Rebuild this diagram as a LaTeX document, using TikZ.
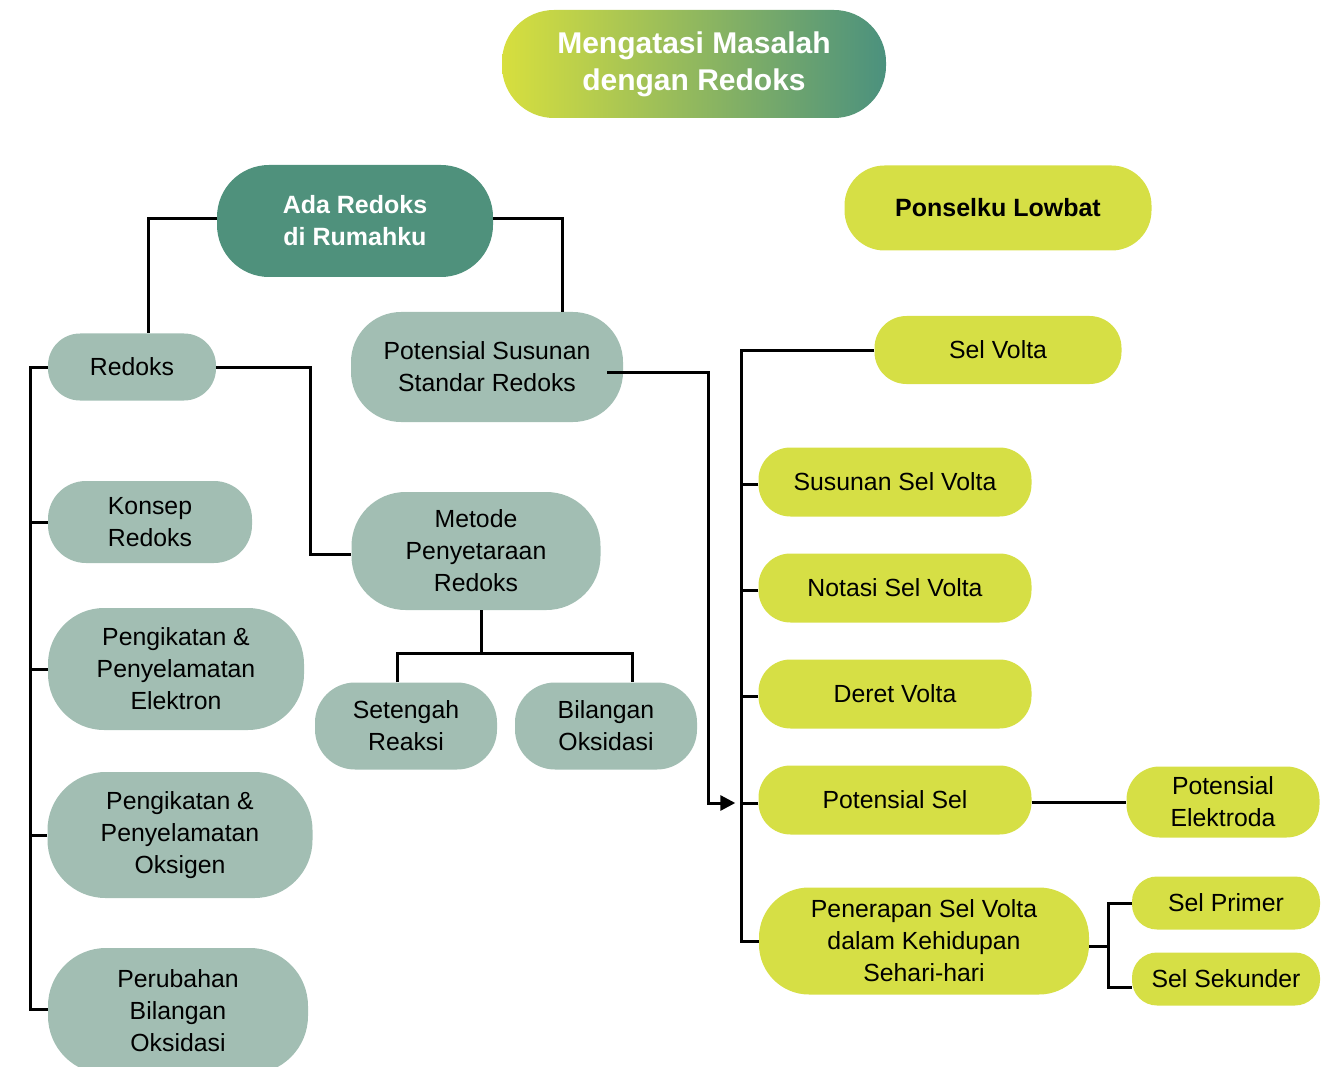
\documentclass[tikz,border=0pt]{standalone}
\usepackage{fontspec}
\setmainfont{Liberation Sans}
\usetikzlibrary{arrows.meta,calc}
\definecolor{grn}{HTML}{A2BEB3}
\definecolor{dgrn}{HTML}{4F917C}
\definecolor{ylw}{HTML}{D6DF45}
\definecolor{tleft}{HTML}{D7DF3E}
\definecolor{tright}{HTML}{4B917E}
\tikzset{
  box/.style={rectangle, inner sep=0pt, align=center, text=black,
    font=\fontsize{24.8}{32}\selectfont},
  gbox/.style={box, fill=grn},
  ybox/.style={box, fill=ylw},
  dbox/.style={box, fill=dgrn, text=white, font=\fontsize{25}{32}\selectfont\bfseries},
  sz/.style n args={3}{minimum width=#1pt, minimum height=#2pt, rounded corners=#3pt},
  con/.style={line width=3pt, black},
  arr/.style={con, -{Triangle[length=15pt,width=15pt]}},
}
\begin{document}
\begin{tikzpicture}[x=1pt,y=-1pt]
\useasboundingbox (0,0) rectangle (1336,1067);
% title
\node[box, sz={384}{108}{52}, left color=tleft, right color=tright, text=white,
  font=\fontsize{30}{37}\selectfont\bfseries] (title) at (694,64) {Mengatasi Masalah\\dengan Redoks};
% left tree
\node[dbox, sz={276}{112}{52}] (ada) at (355,221) {Ada Redoks\\di Rumahku};
\node[gbox, sz={168}{67}{32}] (redoks) at (132,367) {Redoks};
\node[gbox, sz={272}{110}{50}] (pss) at (487,367) {Potensial Susunan\\Standar Redoks};
\node[gbox, sz={204}{82}{38}] (konsep) at (150,522) {Konsep\\Redoks};
\node[gbox, sz={249}{118}{54}] (metode) at (476,551) {Metode\\Penyetaraan\\Redoks};
\node[gbox, sz={256}{122}{56}] (penge) at (176,669) {Pengikatan \&\\Penyelamatan\\Elektron};
\node[gbox, sz={182}{87}{40}] (setengah) at (406,726) {Setengah\\Reaksi};
\node[gbox, sz={182}{87}{40}] (bilangan) at (606,726) {Bilangan\\Oksidasi};
\node[gbox, sz={265}{126}{58}] (pengo) at (180,835) {Pengikatan \&\\Penyelamatan\\Oksigen};
\node[gbox, sz={260}{126}{58}] (perubahan) at (178,1011) {Perubahan\\Bilangan\\Oksidasi};
% right tree
\node[ybox, sz={307}{85}{40}, font=\fontsize{25}{32}\selectfont\bfseries] (ponsel) at (998,208) {Ponselku Lowbat};
\node[ybox, sz={247}{68}{32}] (selvolta) at (998,350) {Sel Volta};
\node[ybox, sz={273}{69}{32}] (susunan) at (895,482) {Susunan Sel Volta};
\node[ybox, sz={273}{69}{32}] (notasi) at (895,588) {Notasi Sel Volta};
\node[ybox, sz={273}{69}{32}] (deret) at (895,694) {Deret Volta};
\node[ybox, sz={273}{69}{32}] (potsel) at (895,800) {Potensial Sel};
\node[ybox, sz={330}{107}{50}] (penerapan) at (924,941) {Penerapan Sel Volta\\dalam Kehidupan\\Sehari-hari};
\node[ybox, sz={193}{71}{33}] (potel) at (1223,802) {Potensial\\Elektroda};
\node[ybox, sz={188}{53}{25}] (primer) at (1226,903) {Sel Primer};
\node[ybox, sz={188}{53}{25}] (sekunder) at (1226,979) {Sel Sekunder};
% connectors left
\draw[con] ([yshift=2pt]ada.west) -| ([xshift=16pt]redoks.north);
\draw[con] ([yshift=2pt]ada.east) -| ([xshift=75pt]pss.north);
\draw[con] (redoks.east) -- ++(94,0) |- ([yshift=-3pt]metode.west);
\draw[con] (redoks.west) -- ++(-17,0) |- ([yshift=2pt]perubahan.west);
\draw[con] (konsep.west) -- ++(-17,0);
\draw[con] (penge.west) -- ++(-17,0);
\draw[con] (pengo.west) -- ++(-17,0);
\coordinate (mj) at (481,653);
\draw[con] (metode.south -| mj) -- (mj);
\draw[con] ([xshift=-9pt]setengah.north) |- (mj) -| ([xshift=26pt]bilangan.north);
% connectors right
\draw[arr] ([shift={(-16pt,-5pt)}]pss.east) -- ++(101,0) |- ([xshift=-23pt,yshift=-3pt]potsel.west);
\draw[con] (selvolta.west) -| ([xshift=-17pt]penerapan.west) -- (penerapan.west);
\draw[con] ([yshift=-2pt]susunan.west) -- ++(-17,0);
\draw[con] ([yshift=-2pt]notasi.west) -- ++(-17,0);
\draw[con] ([yshift=-2pt]deret.west) -- ++(-17,0);
\draw[con] ([yshift=-3pt]potsel.west) -- ++(-17,0);
\draw[con] ([yshift=-2pt]potsel.east) -- ([yshift=-2pt]potsel.east -| potel.west);
\draw[con] ([yshift=-5pt]penerapan.east) -- ++(19,0);
\draw[con] (primer.west) -- ++(-23,0) |- ([yshift=-8pt]sekunder.west);
\end{tikzpicture}
\end{document}
